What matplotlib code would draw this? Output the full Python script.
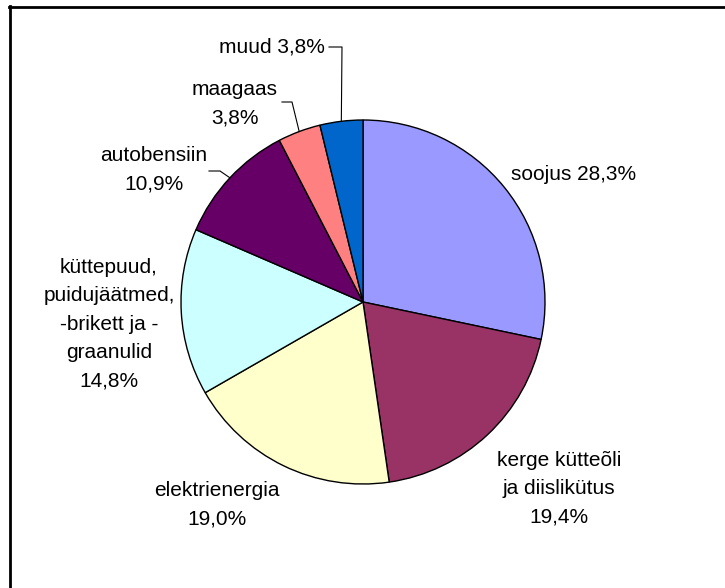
import numpy as np
import matplotlib
matplotlib.use("Agg")
import matplotlib.pyplot as plt
from matplotlib.lines import Line2D

labels = ["soojus 28,3%", "kerge kütteõli\nja diislikütus\n19,4%", "elektrienergia\n19,0%",
          "küttepuud,\npuidujäätmed,\n-brikett ja -\ngraanulid\n14,8%",
          "autobensiin\n10,9%", "maagaas\n3,8%", "muud 3,8%"]
values = [28.3, 19.4, 19.0, 14.8, 10.9, 3.8, 3.8]
colors = ["#9999FF", "#993366", "#FFFFCC", "#CCFFFF", "#660066", "#FF8080", "#0066CC"]

W, H = 725, 588
# label block centres in pixel coordinates (x, y from top)
label_pos = [(574, 175), (559, 489), (217, 505), (109, 324), (154, 170), (235, 104), (272, 47)]
# leader line elbows (None -> no leader)
leader_elbow = [None, None, None, None, (209, 220, 171), (282, 292, 102), (329, 342, 47)]

fig = plt.figure(figsize=(W / 100, H / 100), dpi=100)
ax = fig.add_axes([0, 0, 1, 1])
cx, cy, R = 363, H - 302, 182
wedges, _ = ax.pie(values, colors=colors, startangle=90, counterclock=False,
                   center=(cx, cy), radius=R,
                   wedgeprops=dict(edgecolor="black", linewidth=1.0))
ax.set_xlim(0, W)
ax.set_ylim(0, H)
ax.set_aspect("auto")
ax.axis("off")

font = dict(family=["Liberation Sans", "DejaVu Sans"], fontsize=15, color="black")
for w, lab, pos, el in zip(wedges, labels, label_pos, leader_elbow):
    ax.text(pos[0], H - pos[1], lab, ha="center", va="center", linespacing=1.62, **font)
    if el is not None:
        mid = np.deg2rad((w.theta1 + w.theta2) / 2)
        ex, ey = cx + R * np.cos(mid), cy + R * np.sin(mid)
        x0, x1, yl = el
        ax.plot([x0, x1, ex], [H - yl, H - yl, ey], color="black", lw=0.8)

# partial frame (top and left)
fig.add_artist(Line2D([10 / W, 10 / W], [0, 1 - 6 / H], transform=fig.transFigure, color="black", lw=2))
fig.add_artist(Line2D([9 / W, 1], [1 - 7 / H, 1 - 7 / H], transform=fig.transFigure, color="black", lw=2))

fig.savefig("out.png", dpi=100, facecolor="white")
